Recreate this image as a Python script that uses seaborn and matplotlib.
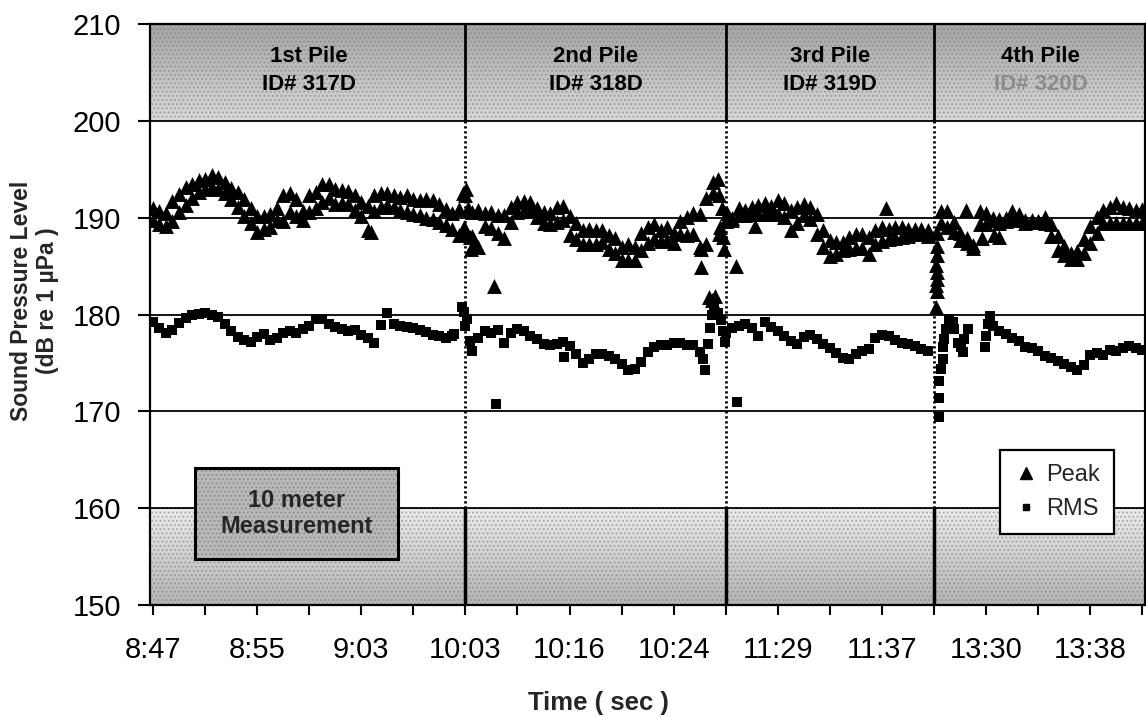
import numpy as np
import pandas as pd
import matplotlib
matplotlib.use("Agg")
import matplotlib.pyplot as plt
import seaborn as sns
from matplotlib.patches import Rectangle
from matplotlib.lines import Line2D
from matplotlib.colors import LinearSegmentedColormap

sns.set_style("white")
plt.rcParams['font.family'] = ['Liberation Sans', 'DejaVu Sans']

# ---------------- data ----------------
STEP = 0.125  # sample spacing in tick units
time_labels = ["8:47", "8:55", "9:03", "10:03", "10:16", "10:24",
               "11:29", "11:37", "13:30", "13:38"]
time_label_pos = [0, 2, 4, 6, 8, 10, 12, 14, 16, 18]
n_ticks = 20
pile_titles = ["1st Pile", "2nd Pile", "3rd Pile", "4th Pile"]
pile_ids = ["ID# 317D", "ID# 318D", "ID# 319D", "ID# 320D"]
pile_edges = [0, 6, 11, 15, 19.1]

# Peak readings: upper and lower readings of the scatter band per time sample
peak_starts = [0.0, 6.0, 11.0, 15.125]
peak_hi_p1 = [191.0, 190.7, 190.5, 191.7, 192.4, 193.2, 193.5, 193.9, 194.0, 194.4,
              194.2, 193.7, 193.1, 192.7, 191.9, 191.0, 190.2, 190.2, 190.4, 191.0,
              192.3, 192.5, 191.9, 190.7, 192.3, 192.7, 193.5, 193.5, 193.0, 192.9,
              192.8, 192.3, 191.6, 191.2, 192.3, 192.6, 192.6, 192.3, 192.1, 192.3,
              191.9, 191.8, 191.9, 191.8, 191.4, 190.9, 190.5, 190.9]
peak_lo_p1 = [189.8, 189.3, 189.1, 189.7, 190.6, 191.3, 192.0, 192.7, 193.0, 193.2,
              193.0, 192.5, 191.9, 191.1, 190.2, 189.5, 188.5, 188.8, 189.0, 189.8,
              189.7, 190.6, 190.2, 189.8, 190.6, 191.0, 191.6, 192.0, 191.4, 191.5,
              191.4, 190.8, 190.2, 188.7, 190.7, 191.1, 191.3, 191.1, 190.8, 190.6,
              190.4, 190.3, 190.0, 189.9, 189.6, 189.2, 188.8, 188.2]
peak_hi_p2 = [192.3, 190.6, 190.8, 190.5, 190.6, 190.3, 190.3, 191.1, 191.6, 191.7,
              191.6, 191.0, 190.6, 190.5, 191.1, 191.2, 190.2, 189.5, 188.7, 188.8,
              188.7, 188.7, 188.2, 187.9, 187.0, 187.3, 187.0, 188.4, 189.0, 189.3,
              188.7, 189.0, 188.4, 189.7, 190.1, 190.5, 190.4, 192.0, 193.7, 192.3]
peak_lo_p2 = [188.3, 188.1, 187.0, 189.1, 188.9, 188.4, 187.9, 189.6, 190.6, 190.8,
              190.7, 190.1, 189.4, 189.3, 189.6, 189.8, 188.2, 187.8, 187.3, 187.3,
              187.3, 187.5, 186.8, 186.4, 185.6, 185.6, 185.6, 186.7, 187.4, 187.8,
              187.6, 187.7, 187.4, 188.3, 188.2, 188.3, 187.0, 187.3, 192.5, 188.3]
peak_hi_p3 = [189.8, 190.0, 191.0, 190.8, 191.1, 191.3, 191.5, 191.2, 191.8, 191.5,
              190.8, 191.1, 191.4, 191.1, 190.4, 188.7, 187.7, 187.5, 187.5, 188.0,
              188.3, 188.3, 188.0, 188.7, 189.0, 188.8, 189.0, 189.0, 188.8, 188.8,
              188.8, 188.7]
peak_lo_p3 = [189.7, 189.8, 190.3, 190.3, 190.4, 190.4, 190.4, 190.4, 190.4, 190.1,
              188.7, 189.4, 190.3, 189.9, 188.3, 187.0, 186.0, 186.2, 186.7, 186.8,
              186.9, 186.9, 186.3, 187.3, 187.6, 187.8, 187.9, 188.0, 188.1, 188.3,
              188.3, 188.1]
peak_hi_p4 = [190.7, 190.7, 189.6, 188.4, 187.9, 187.2, 190.7, 190.5, 190.0, 189.9,
              190.0, 190.7, 190.4, 189.8, 189.6, 189.7, 190.1, 189.3, 188.1, 187.1,
              186.4, 186.6, 187.8, 189.1, 190.1, 190.8, 191.1, 191.5, 191.1, 191.0,
              190.8, 190.9]
peak_lo_p4 = [189.5, 189.0, 188.5, 187.7, 187.4, 186.9, 189.3, 189.3, 189.8, 189.5,
              189.7, 189.8, 190.0, 189.5, 189.8, 189.7, 189.4, 188.1, 186.7, 186.1,
              185.7, 185.7, 186.4, 187.4, 188.4, 189.4, 189.4, 189.4, 189.4, 189.4,
              189.5, 189.4]
peak_extra_t = [4.19, 5.95, 6.02, 6.05, 5.98, 6.08, 6.10, 6.15, 6.55, 10.52,
                10.52, 10.68, 10.74, 10.80, 10.88, 10.92, 10.95, 10.97, 11.02, 10.85,
                11.20, 11.56, 14.08, 15.05, 15.05, 15.06, 15.04, 15.06, 15.05, 15.04,
                15.05, 15.03, 15.62, 16.25, 15.93, 16.16]
peak_extra_v = [188.5, 192.6, 193.0, 191.0, 189.0, 188.0, 186.8, 187.2, 182.9, 186.8,
                184.9, 181.8, 181.5, 181.9, 189.0, 191.0, 188.0, 186.8, 190.5, 194.0,
                185.0, 189.1, 191.0, 188.4, 187.1, 186.1, 185.1, 184.4, 183.7, 183.0,
                182.4, 180.8, 190.8, 188.0, 187.9, 188.2]

rms_starts = [0.0, 6.0, 11.0, 16.125]
rms_p1 = [179.2, 178.6, 178.1, 178.4, 179.1, 179.6, 180.0, 180.1, 180.2, 180.0,
          179.7, 179.0, 178.3, 177.7, 177.4, 177.2, 177.7, 178.0, 177.4, 177.6,
          178.1, 178.3, 178.1, 178.5, 178.8, 179.5, 179.5, 179.0, 178.7, 178.5,
          178.3, 178.4, 177.9, 177.6, 177.1, 178.9, 180.2, 179.0, 178.8, 178.7,
          178.6, 178.4, 178.2, 177.9, 177.8, 177.6, 177.8]
rms_p2 = [178.8, 176.2, 177.6, 178.3, 178.1, 178.4, 177.1, 178.1, 178.5, 178.3,
          177.8, 177.5, 177.0, 176.8, 177.0, 177.2, 176.7, 175.9, 175.0, 175.4,
          175.9, 175.9, 175.7, 175.4, 174.9, 174.3, 174.4, 175.1, 176.1, 176.6,
          176.8, 176.9, 177.1, 177.1, 176.9, 176.8, 176.1]
rms_p3 = [178.1, 178.6, 178.8, 179.0, 178.6, 177.8, 179.2, 178.7, 178.3, 177.8,
          177.3, 177.0, 177.7, 177.9, 177.5, 177.0, 176.5, 176.0, 175.5, 175.4,
          175.9, 176.2, 176.4, 177.6, 177.9, 177.8, 177.4, 177.1, 177.0, 176.7,
          176.4, 176.2]
rms_p4 = [178.8, 178.3, 178.0, 177.6, 177.3, 176.6, 176.5, 176.2, 175.7, 175.5,
          175.2, 174.9, 174.6, 174.3, 174.8, 175.8, 176.0, 175.8, 176.3, 176.2,
          176.5, 176.7, 176.5, 176.3]
rms_extra_t = [5.78, 5.93, 5.97, 6.03, 6.08, 7.89, 6.58, 10.56, 10.60, 10.66,
               10.70, 10.74, 10.78, 10.85, 10.90, 10.95, 10.98, 11.22, 15.29, 15.23,
               15.20, 15.17, 15.17, 15.14, 15.10, 15.10, 15.10, 15.36, 15.39, 15.46,
               15.52, 15.55, 15.58, 15.65, 15.97, 16.00, 16.03, 16.08]
rms_extra_v = [178.0, 180.8, 180.3, 179.5, 177.3, 175.6, 170.8, 175.4, 174.3, 177.0,
               178.6, 180.0, 181.0, 180.2, 179.4, 178.3, 177.2, 171.0, 179.5, 178.5,
               177.5, 176.6, 175.4, 174.4, 173.1, 171.4, 169.4, 179.2, 178.5, 177.1,
               176.6, 176.1, 177.5, 178.5, 176.6, 177.8, 179.0, 179.8]

# ---------------- build frames ----------------
def series_frame(starts, arrays, extra_t, extra_v):
    ts, vs = [], []
    for s, arr in zip(starts, arrays):
        ts += [s + STEP * i for i in range(len(arr))]
        vs += list(arr)
    ts += list(extra_t)
    vs += list(extra_v)
    return pd.DataFrame({"t": ts, "dB": vs})

df_peak = series_frame(peak_starts * 2,
                       [peak_hi_p1, peak_hi_p2, peak_hi_p3, peak_hi_p4,
                        peak_lo_p1, peak_lo_p2, peak_lo_p3, peak_lo_p4],
                       peak_extra_t, peak_extra_v)
df_rms = series_frame(rms_starts, [rms_p1, rms_p2, rms_p3, rms_p4],
                      rms_extra_t, rms_extra_v)

# ---------------- figure ----------------
fig = plt.figure(figsize=(11.46, 7.17), dpi=100)
ax = fig.add_axes([0.1312, 0.1562, 0.8679, 0.8103])
XMIN, XMAX = -0.05, 19.05
YMIN, YMAX = 150, 210

# shaded bands (gradient + speckle)
grad = np.linspace(0, 1, 200).reshape(-1, 1)
cm_top = LinearSegmentedColormap.from_list("top", ["#dadada", "#a4a4a4"])
cm_bot = LinearSegmentedColormap.from_list("bot", ["#b4b4b4", "#ececec"])
ax.imshow(grad, extent=[XMIN, XMAX, 200, 210], origin="lower", cmap=cm_top,
          aspect="auto", zorder=0, interpolation="bilinear")
ax.imshow(grad, extent=[XMIN, XMAX, 150, 160], origin="lower", cmap=cm_bot,
          aspect="auto", zorder=0, interpolation="bilinear")
plt.rcParams['hatch.linewidth'] = 0.9
for y0, y1 in [(200, 210), (150, 160)]:
    ax.add_patch(Rectangle((XMIN, y0), XMAX - XMIN, y1 - y0, facecolor="none",
                           edgecolor="#7a7a7a", hatch="....", lw=0, alpha=0.5,
                           zorder=0.5))

# horizontal grid
for yv in [160, 170, 180, 190, 200]:
    ax.axhline(yv, color="black", lw=1.3, zorder=1)

# pile dividers
for xd in pile_edges[1:-1]:
    ax.vlines(xd, 160, 200, colors="black", lw=2.0, linestyles=(0, (0.8, 1.0)), zorder=1.5)
    ax.vlines(xd, 200, 210, colors="black", lw=2.0, zorder=1.5)
    ax.vlines(xd, 150, 160, colors="black", lw=2.5, zorder=1.5)

# data
sns.scatterplot(data=df_peak, x="t", y="dB", marker="^", s=115, color="black",
                linewidth=0, ax=ax, zorder=3, legend=False)
sns.scatterplot(data=df_rms, x="t", y="dB", marker="s", s=62, color="black",
                linewidth=0, ax=ax, zorder=3, legend=False)

ax.set_xlim(XMIN, XMAX)
ax.set_ylim(YMIN, YMAX)

# pile titles
for i in range(4):
    xc = (pile_edges[i] + min(pile_edges[i + 1], 19.1)) / 2
    ax.text(xc, 206.6, pile_titles[i], ha="center", va="center", fontsize=16,
            fontweight="bold", color="black", zorder=4)
    ax.text(xc, 203.8, pile_ids[i], ha="center", va="center", fontsize=16,
            fontweight="bold", color="#8c8c8c" if i == 3 else "black", zorder=4)

# measurement box
ax.add_patch(Rectangle((0.81, 154.8), 3.9, 9.3, facecolor="#b8b8b8",
                       edgecolor="none", zorder=4))
ax.add_patch(Rectangle((0.81, 154.8), 3.9, 9.3, facecolor="none",
                       edgecolor="#6e6e6e", hatch="....", lw=0, alpha=0.5, zorder=4.1))
ax.add_patch(Rectangle((0.81, 154.8), 3.9, 9.3, facecolor="none",
                       edgecolor="black", lw=2.2, zorder=4.2))
ax.text(2.76, 159.45, "10 meter\nMeasurement", ha="center", va="center",
        fontsize=17, fontweight="bold", linespacing=1.2, zorder=5)

# axes styling
ax.set_xticks(range(n_ticks))
xt = [""] * n_ticks
for p, lab in zip(time_label_pos, time_labels):
    xt[p] = lab
ax.set_xticklabels(xt)
ax.set_yticks([150, 160, 170, 180, 190, 200, 210])
ax.tick_params(axis="x", direction="out", length=7, width=1.5, pad=15,
               labelsize=21, colors="black", bottom=True)
ax.tick_params(axis="y", direction="out", length=9, width=1.5, pad=12,
               labelsize=21, colors="black", left=True)
for sp in ax.spines.values():
    sp.set_color("black")
    sp.set_linewidth(1.6)
ax.set_xlabel("")
ax.set_ylabel("")

# legend
handles = [Line2D([], [], marker="^", color="black", ls="none", markersize=8),
           Line2D([], [], marker="s", color="black", ls="none", markersize=4)]
leg = ax.legend(handles, ["Peak", "RMS"], loc="upper left",
                bbox_to_anchor=(0.854, 0.267), borderaxespad=0, fontsize=17,
                frameon=True, fancybox=False, framealpha=1, edgecolor="black",
                handlelength=1.0, handletextpad=0.35, borderpad=0.6,
                labelspacing=0.5)
leg.get_frame().set_linewidth(1.6)
leg.set_zorder(6)

# axis titles
fig.text(0.030, 0.580, "Sound Pressure Level\n(dB re 1 µPa )", rotation=90,
         ha="center", va="center", fontsize=16.5, fontweight="bold",
         multialignment="center", linespacing=1.2)
fig.text(0.522, 0.019, "Time ( sec )", ha="center", va="center", fontsize=18.5,
         fontweight="bold")

fig.savefig("out.png", dpi=100)
